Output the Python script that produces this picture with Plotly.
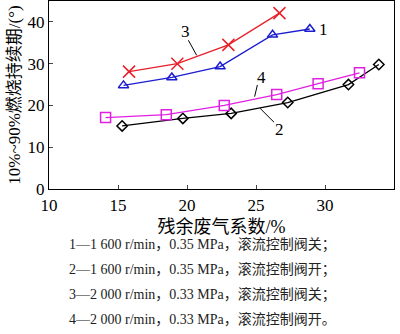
import plotly.graph_objects as go

# Residual gas fraction (%) vs 10%-90% combustion duration (°CA)
x1 = [15.4, 18.9, 22.4, 26.2, 28.9]
y1 = [24.8, 26.7, 29.3, 36.9, 38.3]
x2 = [15.3, 19.7, 23.2, 27.3, 31.7, 33.9]
y2 = [15.1, 16.9, 18.1, 20.7, 25.0, 29.8]
x3 = [15.8, 19.3, 23.0, 26.7]
y3 = [28.1, 30.0, 34.5, 42.1]
x4 = [14.1, 18.5, 22.7, 26.5, 29.5, 32.5]
y4 = [17.1, 17.8, 20.0, 22.6, 25.2, 27.8]

x_ticks = [10, 15, 20, 25, 30, 35]
y_ticks = [0, 10, 20, 30, 40]

captions = [
    "1—1 600 r/min，0.35 MPa，滚流控制阀关；",
    "2—1 600 r/min，0.35 MPa，滚流控制阀开；",
    "3—2 000 r/min，0.33 MPa，滚流控制阀关；",
    "4—2 000 r/min，0.33 MPa，滚流控制阀开。",
]

FONT = "Liberation Serif, Noto Sans CJK SC, serif"

fig = go.Figure()
series = [
    (x1, y1, "#1c1cd0", "triangle-up-open", 9),
    (x2, y2, "#000000", "diamond-open", 8),
    (x3, y3, "#e8202a", "x-thin-open", 12),
    (x4, y4, "#e020e0", "square-open", 10),
]
for xs, ys, col, sym, sz in series:
    fig.add_trace(go.Scatter(
        x=xs, y=ys, mode="lines+markers",
        line=dict(color=col, width=1.3),
        marker=dict(symbol=sym, size=sz, color=col,
                    line=dict(color=col, width=1.5)),
        showlegend=False,
    ))

# curve number labels with leader lines
labels = [("3", 19.9, 37.6), ("1", 29.9, 38.2), ("4", 25.4, 26.8), ("2", 26.7, 14.2)]
for t, lx, ly in labels:
    fig.add_annotation(x=lx, y=ly, text=t, showarrow=False,
                       font=dict(family=FONT, size=17, color="black"))
leaders = [(20.1, 35.6, 20.7, 32.0), (25.1, 24.9, 24.9, 22.1), (25.3, 19.3, 26.3, 16.0)]
for ax0, ay0, ax1, ay1 in leaders:
    fig.add_shape(type="line", x0=ax0, y0=ay0, x1=ax1, y1=ay1,
                  xref="x", yref="y", line=dict(color="black", width=1))

# caption lines below the plot
plot_h = 189
for i, c in enumerate(captions):
    ypx = 245 + i * 25
    fig.add_annotation(xref="paper", yref="paper", x=(67 - 49) / 345,
                       y=(plot_h - ypx) / plot_h, xanchor="left", yanchor="middle",
                       text=c, showarrow=False,
                       font=dict(family=FONT, size=14, color="#222222"))

fig.update_xaxes(range=[10, 35], tickvals=x_ticks, ticks="inside", ticklen=4,
                 showline=True, linecolor="black", linewidth=1.2, mirror=True,
                 showgrid=False, zeroline=False,
                 tickfont=dict(family=FONT, size=17, color="black"),
                 title=dict(text="残余废气系数/%", standoff=6,
                            font=dict(family=FONT, size=18, color="black")))
fig.update_yaxes(range=[0, 45], tickvals=y_ticks, ticks="inside", ticklen=4,
                 showline=True, linecolor="black", linewidth=1.2, mirror=True,
                 showgrid=False, zeroline=False,
                 tickfont=dict(family=FONT, size=17, color="black"),
                 title=dict(text="10%~90%燃烧持续期/(°)", standoff=2,
                            font=dict(family=FONT, size=17, color="black")))

fig.update_layout(width=400, height=334, margin=dict(l=49, r=6, t=1, b=145),
                  plot_bgcolor="white", paper_bgcolor="white")

fig.write_html("out.html")
